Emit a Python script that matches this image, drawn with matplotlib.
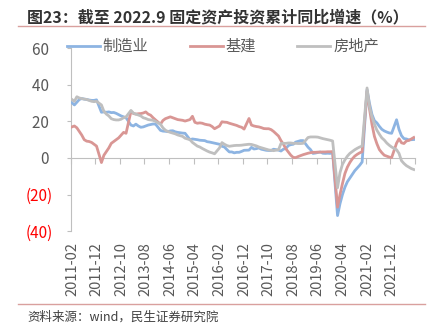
import numpy as np
import pandas as pd
import matplotlib
matplotlib.use("Agg")
import matplotlib.pyplot as plt
from matplotlib.lines import Line2D

plt.rcParams['font.family'] = ['Noto Sans CJK SC', 'DejaVu Sans']

# --- data: cumulative yoy %, Feb..Dec each year (no January), 2011-02 .. 2022-09 ---
manufacturing = [
    30.2, 29.0, 30.5, 32.0, 32.5, 32.2, 32.0, 31.7, 31.5, 31.5, 31.8,   # 2011
    25.0, 25.2, 25.0, 25.2, 24.8, 24.9, 24.4, 23.7, 23.0, 22.5, 22.0,   # 2012
    18.0, 17.5, 18.5, 17.5, 16.8, 17.0, 17.5, 18.0, 18.3, 18.6, 18.5,   # 2013
    15.1, 14.7, 14.6, 14.4, 14.8, 14.9, 14.3, 14.0, 13.8, 13.6, 13.5,   # 2014
    10.0, 10.4, 10.2, 10.0, 9.7, 9.6, 9.5, 8.9, 8.7, 8.4, 8.1,          # 2015
    7.5, 6.4, 6.0, 4.6, 3.3, 3.3, 2.8, 3.1, 3.1, 3.6, 4.2,              # 2016
    4.3, 5.8, 4.9, 5.1, 5.5, 4.8, 4.5, 4.2, 4.1, 4.1, 4.8,              # 2017
    4.3, 3.8, 4.8, 5.2, 6.8, 7.3, 7.5, 8.7, 9.1, 9.5, 9.5,              # 2018
    5.9, 4.6, 2.5, 2.7, 3.0, 3.3, 2.6, 2.5, 2.6, 2.5, 3.1,              # 2019
    -31.5, -25.0, -20.0, -16.0, -13.0, -11.0, -9.0, -7.0, -5.5, -4.0, -2.2,  # 2020
    37.3, 29.8, 23.8, 20.4, 19.2, 17.3, 15.7, 14.8, 14.2, 13.7, 13.5,   # 2021
    20.9, 15.6, 12.2, 10.6, 10.4, 9.9, 10.0, 10.1,                      # 2022
]
infrastructure = [
    17.0, 17.5, 16.5, 14.5, 12.5, 10.0, 9.2, 9.0, 8.5, 7.5, 6.5,        # 2011
    -2.5, 1.5, 3.5, 5.5, 8.0, 9.0, 10.0, 11.0, 12.5, 14.0, 13.5,        # 2012
    25.5, 24.3, 24.0, 24.2, 24.3, 24.6, 25.2, 24.0, 23.4, 22.0, 20.8,   # 2013
    18.5, 20.5, 21.5, 22.0, 22.5, 22.0, 21.5, 21.0, 20.8, 20.6, 20.2,   # 2014
    21.0, 22.8, 19.5, 19.0, 19.2, 19.0, 18.5, 18.2, 18.0, 17.2, 16.0,   # 2015
    17.5, 19.8, 19.6, 19.5, 19.0, 18.6, 18.2, 17.8, 17.2, 16.8, 15.8,   # 2016
    21.6, 18.0, 17.5, 17.2, 17.0, 16.6, 16.1, 16.0, 16.0, 15.5, 14.5,   # 2017
    12.0, 9.5, 7.5, 5.0, 3.2, 1.5, 0.3, 0.2, 0.8, 1.3, 1.8,             # 2018
    2.6, 2.9, 3.1, 3.1, 3.2, 3.2, 3.3, 3.3, 3.4, 3.4, 3.5,              # 2019
    -26.9, -20.0, -14.0, -8.5, -5.0, -2.5, -0.5, 1.0, 2.0, 2.8, 3.4,    # 2020
    36.6, 26.8, 18.4, 11.8, 7.8, 4.6, 2.9, 1.5, 1.0, 0.5, 0.2,          # 2021
    8.1, 10.5, 8.3, 7.9, 9.3, 9.6, 10.4, 11.2,                          # 2022
]
real_estate = [
    32.0, 31.0, 33.5, 32.8, 32.5, 32.2, 32.0, 31.5, 31.0, 30.8, 31.0,   # 2011
    29.0, 25.5, 24.0, 23.0, 21.5, 21.0, 20.8, 20.8, 21.2, 22.0, 22.5,   # 2012
    26.0, 24.5, 24.0, 23.5, 23.0, 22.0, 21.6, 21.0, 20.8, 20.6, 20.0,   # 2013
    18.5, 16.5, 15.2, 14.5, 14.0, 13.6, 13.2, 12.6, 12.2, 11.8, 10.8,   # 2014
    10.0, 8.5, 7.5, 6.5, 6.0, 5.2, 4.5, 3.8, 3.2, 2.8, 2.3,             # 2015
    5.5, 8.4, 7.5, 6.8, 6.4, 6.6, 6.8, 6.9, 6.9, 7.0, 7.2,              # 2016
    7.5, 7.4, 7.0, 6.6, 6.0, 5.6, 5.2, 4.8, 4.4, 4.2, 4.0,              # 2017
    4.5, 7.9, 8.0, 8.0, 8.2, 8.2, 8.0, 8.0, 7.9, 7.9, 8.0,              # 2018
    11.2, 11.5, 11.5, 11.5, 11.4, 11.0, 10.6, 10.3, 10.0, 9.7, 9.3,     # 2019
    -16.3, -8.0, -3.5, -1.0, 1.0, 2.5, 3.5, 4.5, 5.3, 6.0, 6.5,         # 2020
    38.3, 28.0, 22.5, 18.5, 15.2, 13.0, 11.0, 9.8, 8.2, 7.0, 6.0,       # 2021
    4.5, 2.5, -1.5, -3.0, -4.2, -5.0, -5.8, -6.3,                       # 2022
]
series_names = ['制造业', '基建', '房地产']
series_colors = ['#8DB4E2', '#D99694', '#BFBFBF']

xtick_labels = ['2011-02', '2011-12', '2012-10', '2013-08', '2014-06', '2015-04', '2016-02',
                '2016-12', '2017-10', '2018-08', '2019-06', '2020-04', '2021-02', '2021-12']
ytick_values = [-40, -20, 0, 20, 40, 60]

# month position on a continuous monthly axis (January has no data point)
months = pd.period_range('2011-02', '2022-09', freq='M')
months = months[months.month != 1]
xpos = np.asarray((months.year - 2011) * 12 + months.month - 2)

fig = plt.figure(figsize=(4.4, 3.33), dpi=100)
ax = fig.add_axes([0.1607, 0.306, 0.7825, 0.549])

for vals, name, col in zip([manufacturing, infrastructure, real_estate], series_names, series_colors):
    ax.plot(xpos, vals, color=col, lw=2.0, label=name, solid_joinstyle='round', zorder=3)

ax.set_xlim(-0.5, 139.5)
ax.set_ylim(-40, 60)

# y axis
ax.set_yticks(ytick_values)
ax.set_yticklabels([f"({abs(v)})" if v < 0 else f"{v} " for v in ytick_values])
ax.tick_params(axis='y', length=3, width=0.8, color='#BFBFBF', labelsize=11,
               labelcolor='#595959', pad=10)
for lab, v in zip(ax.get_yticklabels(), ytick_values):
    if v < 0:
        lab.set_color('#FF0000')

# x labels at the bottom, no ticks
ax.set_xticks(np.arange(0, 140, 10))
ax.set_xticklabels(xtick_labels, rotation=90)
ax.tick_params(axis='x', length=0, labelsize=10.5, labelcolor='#595959', pad=8)

for s in ['top', 'right', 'bottom']:
    ax.spines[s].set_visible(False)
ax.spines['left'].set_color('#BFBFBF')
ax.spines['left'].set_linewidth(0.8)

# horizontal axis line crossing at 0 with tick marks
zero_frac = (0 - ax.get_ylim()[0]) / (ax.get_ylim()[1] - ax.get_ylim()[0])
sec = ax.secondary_xaxis(zero_frac)
sec.set_xticks(np.arange(-0.5, 140, 10))
sec.tick_params(axis='x', direction='out', length=4, width=0.8, color='#BFBFBF', labelbottom=False)
sec.spines['bottom'].set_color('#BFBFBF')
sec.spines['bottom'].set_linewidth(0.8)
sec.set_zorder(1)

# legend
handles, labels = ax.get_legend_handles_labels()
leg = fig.legend(handles, labels, loc='center left', bbox_to_anchor=(0.152, 0.86), ncol=3,
                 frameon=False, handlelength=2.15, handletextpad=0.2, columnspacing=2.7,
                 fontsize=11, borderpad=0, borderaxespad=0)
for t in leg.get_texts():
    t.set_color('#595959')

# title, rules and source
fig.text(27 / 440, 1 - 17 / 333, '图23：截至 2022.9 固定资产投资累计同比增速（%）',
         fontsize=11.5, fontweight='bold', color='#333333', va='center', ha='left')
fig.add_artist(Line2D([18 / 440, 425 / 440], [1 - 26 / 333] * 2, color='#D9A09E', lw=1))
fig.add_artist(Line2D([18 / 440, 425 / 440], [1 - 304 / 333] * 2, color='#D9A09E', lw=1))
fig.text(27 / 440, 1 - 317 / 333, '资料来源：wind，民生证券研究院',
         fontsize=9, color='#404040', va='center', ha='left')

fig.savefig('out.png', dpi=100)
